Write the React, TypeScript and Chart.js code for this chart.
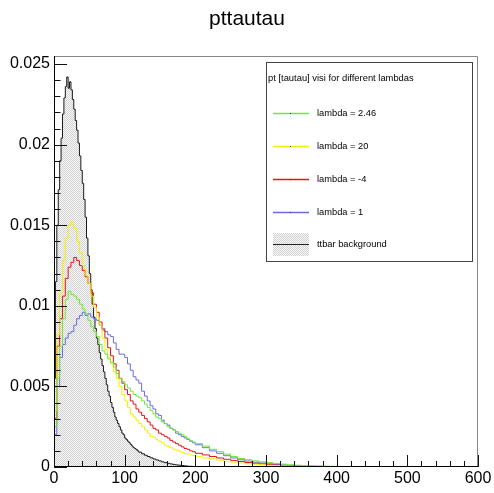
import React, { useEffect, useRef } from "react";
import { Chart, registerables } from "chart.js";
Chart.register(...registerables);

const FONT = "'Liberation Sans', Arial, Helvetica, sans-serif";

// Histogram bin edges for the lambda samples: 4-unit bins to 200, then 10-unit bins to 450
const binEdges: number[] = [];
for (let e = 0; e < 200; e += 4) binEdges.push(e);
for (let e = 200; e <= 450; e += 10) binEdges.push(e);

// Histogram bin edges for ttbar: 2-unit bins to 120, then 4-unit bins to 200
const ttbarEdges: number[] = [];
for (let e = 0; e < 120; e += 2) ttbarEdges.push(e);
for (let e = 120; e <= 200; e += 4) ttbarEdges.push(e);

const titleText = "pttautau";
const legendHeader = "pt [tautau] visi for different lambdas";

const xTickValues = [0, 100, 200, 300, 400, 500, 600];
const yTickValues = [0, 0.005, 0.01, 0.015, 0.02, 0.025];
const yTickLabels = ["0", "0.005", "0.01", "0.015", "0.02", "0.025"];

// ttbar background
const ttbarValues = [
  0.0055, 0.0115, 0.0150, 0.0172, 0.0190, 0.0204, 0.0219, 0.0229, 0.0236, 0.0242,
  0.0235, 0.0239, 0.0234, 0.0228, 0.0222, 0.0215, 0.0209, 0.0201, 0.0193, 0.0184,
  0.0176, 0.0166, 0.0155, 0.0142, 0.0131, 0.0120, 0.0110, 0.0101, 0.0093, 0.0086,
  0.0080, 0.0076, 0.0071, 0.0067, 0.0063, 0.0059, 0.0055, 0.0051, 0.0047, 0.0044,
  0.0040, 0.0037, 0.0034, 0.0031, 0.0029, 0.0027, 0.0025, 0.0023, 0.0021, 0.0020,
  0.0018, 0.0017, 0.0016, 0.0015, 0.0014, 0.0013, 0.0012, 0.00115, 0.00108, 0.0010,
  0.00092, 0.00082, 0.00073, 0.00065, 0.00057, 0.0005, 0.00044, 0.00038, 0.00032, 0.00027,
  0.00023, 0.00019, 0.00016, 0.00013, 0.00011, 0.00009, 0.00007, 0.00005, 0.00004, 0.00003,
];

// lambda = 2.46 (green)
const lambda246 = [
  0.0025, 0.0055, 0.0075, 0.0092, 0.0104, 0.0109, 0.0107, 0.0106, 0.0104, 0.0101,
  0.0098, 0.0095, 0.0091, 0.0087, 0.0084, 0.0081, 0.0076, 0.0072, 0.0070, 0.0067,
  0.0065, 0.0062, 0.0058, 0.0055, 0.0053, 0.0051, 0.0049, 0.0047, 0.0045, 0.0044,
  0.0043, 0.0041, 0.0039, 0.0037, 0.0035, 0.0033, 0.0031, 0.0030, 0.0028, 0.0027,
  0.0025, 0.0024, 0.0023, 0.0022, 0.0021, 0.0020, 0.0019, 0.00175, 0.00165, 0.00155,
  0.00145, 0.0013, 0.0011, 0.00095, 0.0008, 0.00065, 0.00053, 0.00045, 0.00038, 0.00032,
  0.00027, 0.00022, 0.00018, 0.00014, 0.00011, 0.00009, 0.00007, 0.00006, 0.00005, 0.00004,
  0.00003, 0.00003, 0.00002, 0.00002, 0.00001,
];

// lambda = 20 (yellow)
const lambda20 = [
  0.0035, 0.0082, 0.0108, 0.0128, 0.0142, 0.0150, 0.0152, 0.0148, 0.0140, 0.0133,
  0.0125, 0.0119, 0.0114, 0.0106, 0.0099, 0.0093, 0.0088, 0.0080, 0.0073, 0.0068,
  0.0064, 0.0059, 0.0055, 0.0050, 0.0045, 0.0041, 0.0037, 0.0033, 0.0031, 0.0029,
  0.0027, 0.0025, 0.0023, 0.0021, 0.0019, 0.00185, 0.0017, 0.0016, 0.0015, 0.00135,
  0.00127, 0.0012, 0.0011, 0.00105, 0.00098, 0.0009, 0.00085, 0.0008, 0.00075, 0.0007,
  0.00064, 0.00056, 0.0005, 0.00043, 0.00036, 0.0003, 0.00025, 0.0002, 0.00017, 0.00014,
  0.00011, 0.00009, 0.00007, 0.00006, 0.00005, 0.00004, 0.00003, 0.00003, 0.00002, 0.00002,
  0.00001, 0.00001, 0.00001, 0, 0,
];

// lambda = -4 (red)
const lambdaM4 = [
  0.0030, 0.0075, 0.0092, 0.0106, 0.0117, 0.0124, 0.0127, 0.0130, 0.0128, 0.0125,
  0.0122, 0.0118, 0.0114, 0.0108, 0.0101, 0.0096, 0.0090, 0.0085, 0.0080, 0.0074,
  0.0069, 0.0064, 0.0060, 0.0055, 0.0052, 0.0048, 0.0045, 0.0041, 0.0039, 0.0036,
  0.0034, 0.0032, 0.0030, 0.0028, 0.0026, 0.0024, 0.0023, 0.0021, 0.0020, 0.0019,
  0.0018, 0.00165, 0.00155, 0.00145, 0.00135, 0.00125, 0.00115, 0.0011, 0.001, 0.00095,
  0.00085, 0.00075, 0.00065, 0.00056, 0.00048, 0.00041, 0.00034, 0.00028, 0.00023, 0.00019,
  0.00015, 0.00012, 0.0001, 0.00008, 0.00006, 0.00005, 0.00004, 0.00003, 0.00003, 0.00002,
  0.00002, 0.00001, 0.00001, 0.00001, 0,
];

// lambda = 1 (blue)
const lambda1 = [
  0.0020, 0.0050, 0.0068, 0.0076, 0.0080, 0.0083, 0.0084, 0.0088, 0.0092, 0.0094,
  0.0096, 0.0094, 0.0095, 0.0093, 0.0092, 0.0091, 0.0088, 0.0086, 0.0084, 0.0082,
  0.0081, 0.0077, 0.0073, 0.0070, 0.0070, 0.0068, 0.0064, 0.0060, 0.0056, 0.0054,
  0.0052, 0.0047, 0.0044, 0.0041, 0.0038, 0.0036, 0.0033, 0.0032, 0.0029, 0.0027,
  0.0026, 0.0024, 0.0023, 0.0021, 0.0020, 0.0019, 0.0018, 0.0017, 0.0016, 0.0015,
  0.00138, 0.0012, 0.001, 0.00085, 0.0007, 0.00056, 0.00045, 0.00037, 0.0003, 0.00025,
  0.0002, 0.00016, 0.00013, 0.0001, 0.00008, 0.00006, 0.00005, 0.00004, 0.00003, 0.00003,
  0.00002, 0.00002, 0.00001, 0.00001, 0,
];

const seriesNames = ["lambda = 2.46", "lambda = 20", "lambda = -4", "lambda = 1"];
const seriesColors = ["#6fe83c", "#f2f200", "#e3161c", "#6c6ce4"];
const seriesValues = [lambda246, lambda20, lambdaM4, lambda1];
const ttbarName = "ttbar background";

function histPoints(values: number[], edges: number[]) {
  const pts = values.map((v, i) => ({ x: edges[i], y: v }));
  pts.push({ x: edges[values.length], y: values[values.length - 1] });
  return pts;
}

export default function App() {
  const ref = useRef<HTMLCanvasElement>(null);

  useEffect(() => {
    const canvas = ref.current!;
    const pc = document.createElement("canvas");
    pc.width = 4;
    pc.height = 4;
    const p = pc.getContext("2d")!;
    p.fillStyle = "#f8f8f8";
    p.fillRect(0, 0, 4, 4);
    p.fillStyle = "#d2d2d2";
    for (let yy = 0; yy < 4; yy++)
      for (let xx = 0; xx < 4; xx++) if ((xx + yy) % 2 === 0) p.fillRect(xx, yy, 1, 1);
    const pattern = canvas.getContext("2d")!.createPattern(pc, "repeat")!;

    const overlay = {
      id: "rootStyle",
      afterDraw(chart: any) {
        const ctx = chart.ctx as CanvasRenderingContext2D;
        const { left, right, top, bottom } = chart.chartArea;
        const xs = chart.scales.x;
        const ys = chart.scales.y;
        ctx.save();
        // frame
        ctx.lineWidth = 1;
        ctx.strokeStyle = "#888";
        ctx.beginPath();
        ctx.moveTo(left, top + 0.5);
        ctx.lineTo(right - 0.5, top + 0.5);
        ctx.lineTo(right - 0.5, bottom);
        ctx.stroke();
        ctx.strokeStyle = "#000";
        ctx.beginPath();
        ctx.moveTo(left + 0.5, top);
        ctx.lineTo(left + 0.5, bottom - 0.5);
        ctx.lineTo(right, bottom - 0.5);
        ctx.stroke();
        // ticks
        ctx.strokeStyle = "#111";
        ctx.beginPath();
        for (let v = 0; v <= 600; v += 20) {
          const px = Math.round(xs.getPixelForValue(v)) + 0.5;
          const len = v % 100 === 0 ? 12 : 6;
          ctx.moveTo(px, bottom);
          ctx.lineTo(px, bottom - len);
        }
        for (let k = 0; k <= 25; k++) {
          const v = k * 0.001;
          const py = Math.round(ys.getPixelForValue(v)) + 0.5;
          const len = k % 5 === 0 ? 13 : 6.5;
          ctx.moveTo(left, py);
          ctx.lineTo(left + len, py);
        }
        ctx.stroke();
        // title
        ctx.fillStyle = "#000";
        ctx.font = `21px ${FONT}`;
        ctx.textAlign = "center";
        ctx.textBaseline = "middle";
        ctx.fillText(titleText, 247, 19);
        // legend
        const lx = 266, ly = 62, lw = 206, lh = 199;
        ctx.fillStyle = "#fff";
        ctx.fillRect(lx, ly, lw, lh);
        ctx.strokeStyle = "#444";
        ctx.strokeRect(lx + 0.5, ly + 0.5, lw, lh);
        ctx.fillStyle = "#000";
        ctx.textAlign = "left";
        ctx.font = `9.4px ${FONT}`;
        ctx.fillText(legendHeader, 268, 78);
        const rowsY = [113, 146, 179, 212, 244];
        seriesNames.forEach((name, i) => {
          const yy = rowsY[i] + 0.5;
          ctx.strokeStyle = seriesColors[i];
          ctx.lineWidth = 1.5;
          ctx.beginPath();
          ctx.moveTo(273, yy);
          ctx.lineTo(309, yy);
          ctx.stroke();
          ctx.lineWidth = 1;
          ctx.fillStyle = "#333";
          ctx.fillRect(290, yy - 0.5, 1, 1);
          ctx.fillStyle = "#000";
          ctx.font = `9.3px ${FONT}`;
          ctx.fillText(name, 317, rowsY[i]);
        });
        ctx.fillStyle = pattern;
        ctx.fillRect(273, 233, 36, 23);
        ctx.strokeStyle = "#222";
        ctx.beginPath();
        ctx.moveTo(273, 244.5);
        ctx.lineTo(309, 244.5);
        ctx.stroke();
        ctx.fillStyle = "#000";
        ctx.fillText(ttbarName, 317, 244);
        ctx.restore();
      },
    };

    const datasets: any[] = seriesValues.map((vals, i) => ({
      label: seriesNames[i],
      data: histPoints(vals, binEdges),
      borderColor: seriesColors[i],
      borderWidth: 1,
      pointRadius: 0,
      stepped: true,
      fill: false,
      order: i + 1,
    }));
    datasets.push({
      label: ttbarName,
      data: histPoints(ttbarValues, ttbarEdges),
      borderColor: "#1a1a1a",
      backgroundColor: pattern,
      borderWidth: 1,
      pointRadius: 0,
      stepped: true,
      fill: "origin",
      order: 10,
    });

    const chart = new Chart(canvas, {
      type: "line",
      data: { datasets },
      options: {
        animation: false,
        responsive: false,
        events: [],
        parsing: false,
        layout: { padding: { left: 0, right: 16, top: 56, bottom: 0 } },
        plugins: {
          legend: { display: false },
          tooltip: { enabled: false },
          title: { display: false },
        },
        scales: {
          x: {
            type: "linear",
            min: 0,
            max: 600,
            grid: { display: false, drawTicks: false },
            border: { display: false },
            ticks: {
              font: { family: FONT, size: 16 },
              color: "#000",
              padding: 2,
              maxRotation: 0,
              autoSkip: false,
            },
            afterBuildTicks: (s: any) => {
              s.ticks = xTickValues.map((v) => ({ value: v }));
            },
            afterFit: (s: any) => {
              s.height = 26;
            },
          },
          y: {
            type: "linear",
            min: 0,
            max: 0.0255,
            grid: { display: false, drawTicks: false },
            border: { display: false },
            ticks: {
              font: { family: FONT, size: 16 },
              color: "#000",
              padding: 4,
              autoSkip: false,
              callback: (v: any) => {
                const idx = yTickValues.findIndex((t) => Math.abs(t - v) < 1e-9);
                return idx >= 0 ? yTickLabels[idx] : "";
              },
            },
            afterBuildTicks: (s: any) => {
              s.ticks = yTickValues.map((v) => ({ value: v }));
            },
            afterFit: (s: any) => {
              s.width = 54;
            },
          },
        },
      },
      plugins: [overlay],
    });
    return () => chart.destroy();
  }, []);

  return (
    <div style={{ position: "fixed", left: 0, top: 0, width: 494, height: 493, background: "#fff" }}>
      <canvas ref={ref} width={494} height={493} style={{ display: "block" }} />
    </div>
  );
}
